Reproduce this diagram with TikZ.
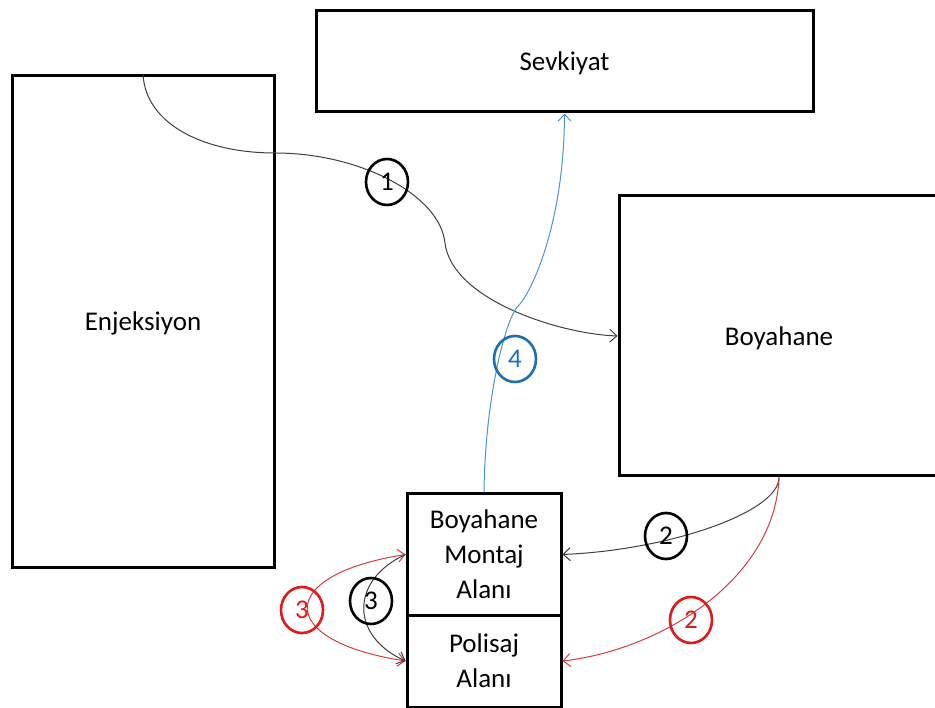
\documentclass[tikz,border=0pt]{standalone}
\usepackage{fontspec}
\setmainfont{Carlito}
\usetikzlibrary{arrows.meta,shapes.geometric}
\definecolor{flowgray}{RGB}{64,64,64}
\definecolor{flowred}{RGB}{215,60,60}
\definecolor{badgered}{RGB}{225,25,25}
\definecolor{flowblue}{RGB}{75,150,205}
\definecolor{badgeblue}{RGB}{30,110,180}
\newcommand\areafont{\fontsize{27}{35}\selectfont}
\begin{document}
\begin{tikzpicture}[x=1pt,y=-1pt,
  area/.style={draw, line width=3pt, inner sep=0pt, align=center, font=\areafont},
  oneline/.style={text depth=0pt},
  flow/.style={line width=1pt, draw=flowgray},
  badge/.style={ellipse, draw, line width=2.6pt, minimum width=42pt, minimum height=46pt, inner sep=0pt, font=\areafont},
  >={Straight Barb[length=7pt,width=13pt]}]
\useasboundingbox (0,0) rectangle (935,708);
\fill[white] (0,0) rectangle (935,708);
\clip (0,0) rectangle (935,708);

% work areas
\node[area, oneline, minimum width=262pt, minimum height=491pt] (enj) at (143,321.5) {Enjeksiyon};
\node[area, oneline, minimum width=497pt, minimum height=101pt] (sev) at (564.5,61.5) {Sevkiyat};
\node[area, oneline, minimum width=320pt, minimum height=280pt] (boy) at (779,336) {Boyahane};
\node[area, minimum width=154pt, minimum height=121pt] (montaj) at (484,554.5) {Boyahane\\Montaj\\Alanı};
\node[area, minimum width=154pt, minimum height=92pt] (polisaj) at (484,661) {Polisaj\\Alanı};

% 1: injection to paint shop
\draw[flow,->] (enj.north) .. controls (146,125) and (205,153) .. (275,153)
  .. controls (360,153) and (440,195) .. (445,243)
  .. controls (452,300) and (560,334) .. (boy.west);

% 4: paint assembly to shipping
\draw[flow,draw=flowblue,->] (montaj.north) .. controls (485,400) and (505,320) .. (518,306)
  .. controls (528,298) and (564,230) .. (sev.south);

% 2: paint shop to assembly and polishing
\draw[flow,->] (boy.south) .. controls (779,512) and (670,550) .. (montaj.east);
\draw[flow,draw=flowred,->] (boy.south) .. controls (775,580) and (660,650) .. (polisaj.east);

% 3: assembly and polishing exchange
\draw[flow,draw=flowred,<->] (montaj.west) .. controls (275,575) and (275,641) .. (polisaj.west);
\draw[flow,->] (montaj.west) .. controls (350,580) and (350,636) .. (polisaj.west);

% step badges
\node[badge] (b1) at (387,182) {1};
\node[badge] (b2k) at (666,536) {2};
\node[badge, draw=badgered, text=badgered] (b2r) at (691,620) {2};
\node[badge, draw=badgered, text=badgered] (b3r) at (302,610) {3};
\node[badge] (b3k) at (371,601) {3};
\node[badge, draw=badgeblue, text=badgeblue] (b4) at (515,359) {4};
\end{tikzpicture}
\end{document}
